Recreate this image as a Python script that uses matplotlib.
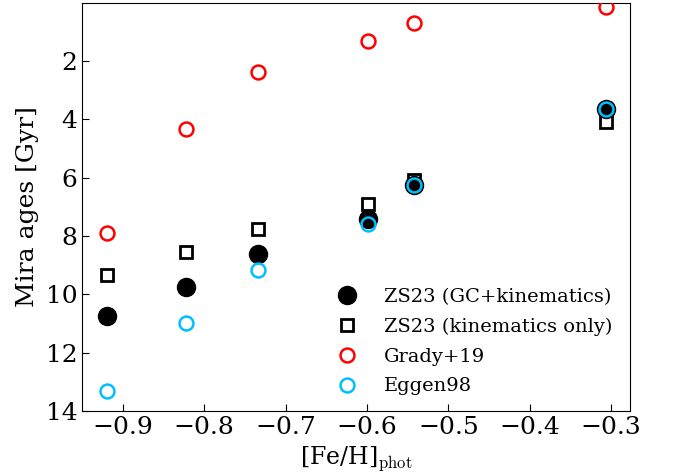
import numpy as np
import matplotlib
matplotlib.use("Agg")
import matplotlib.pyplot as plt

plt.rcParams['font.family'] = 'DejaVu Serif'
plt.rcParams['mathtext.fontset'] = 'cm'

# [Fe/H]_phot bins
feh = [-0.919, -0.8225, -0.734, -0.599, -0.542, -0.307]

# ages in Gyr
age_zs23_gc = [10.75, 9.74, 8.62, 7.43, 6.26, 3.63]
age_zs23_kin = [9.34, 8.55, 7.75, 6.89, 6.07, 4.09]
age_grady = [7.91, 4.34, 2.38, 1.30, 0.70, 0.15]
age_eggen = [13.33, 11.0, 9.15, 7.58, 6.26, 3.63]

fig = plt.figure(figsize=(6.73, 4.75), dpi=100)
ax = fig.add_axes([0.122, 0.135, 0.814, 0.859])

ax.plot(feh, age_zs23_kin, 's', ms=9, mfc='none', mec='black', mew=2,
        label='ZS23 (kinematics only)', zorder=2)
ax.plot(feh, age_zs23_gc, 'o', ms=13, color='black',
        label='ZS23 (GC+kinematics)', zorder=3)
ax.plot(feh, age_grady, 'o', ms=10, mfc='none', mec='red', mew=1.8,
        label='Grady+19', zorder=4)
ax.plot(feh, age_eggen, 'o', ms=10, mfc='none', mec='deepskyblue', mew=1.8,
        label='Eggen98', zorder=5)

ax.set_xlim(-0.95, -0.277)
ax.set_ylim(14, 0)
ax.set_yticks([2, 4, 6, 8, 10, 12, 14])
ax.set_xticks([-0.9, -0.8, -0.7, -0.6, -0.5, -0.4, -0.3])
ax.tick_params(direction='in', labelsize=18, length=5)

ax.set_xlabel(r'[Fe/H]$_{\rm phot}$', fontsize=17)
ax.set_ylabel('Mira ages [Gyr]', fontsize=18, labelpad=5)

handles, labels = ax.get_legend_handles_labels()
order = [1, 0, 2, 3]
ax.legend([handles[i] for i in order], [labels[i] for i in order],
          loc='lower right', frameon=False, fontsize=14, handletextpad=0.9,
          labelspacing=0.6, bbox_to_anchor=(1.0, -0.005))

fig.savefig('out.png', dpi=100)
